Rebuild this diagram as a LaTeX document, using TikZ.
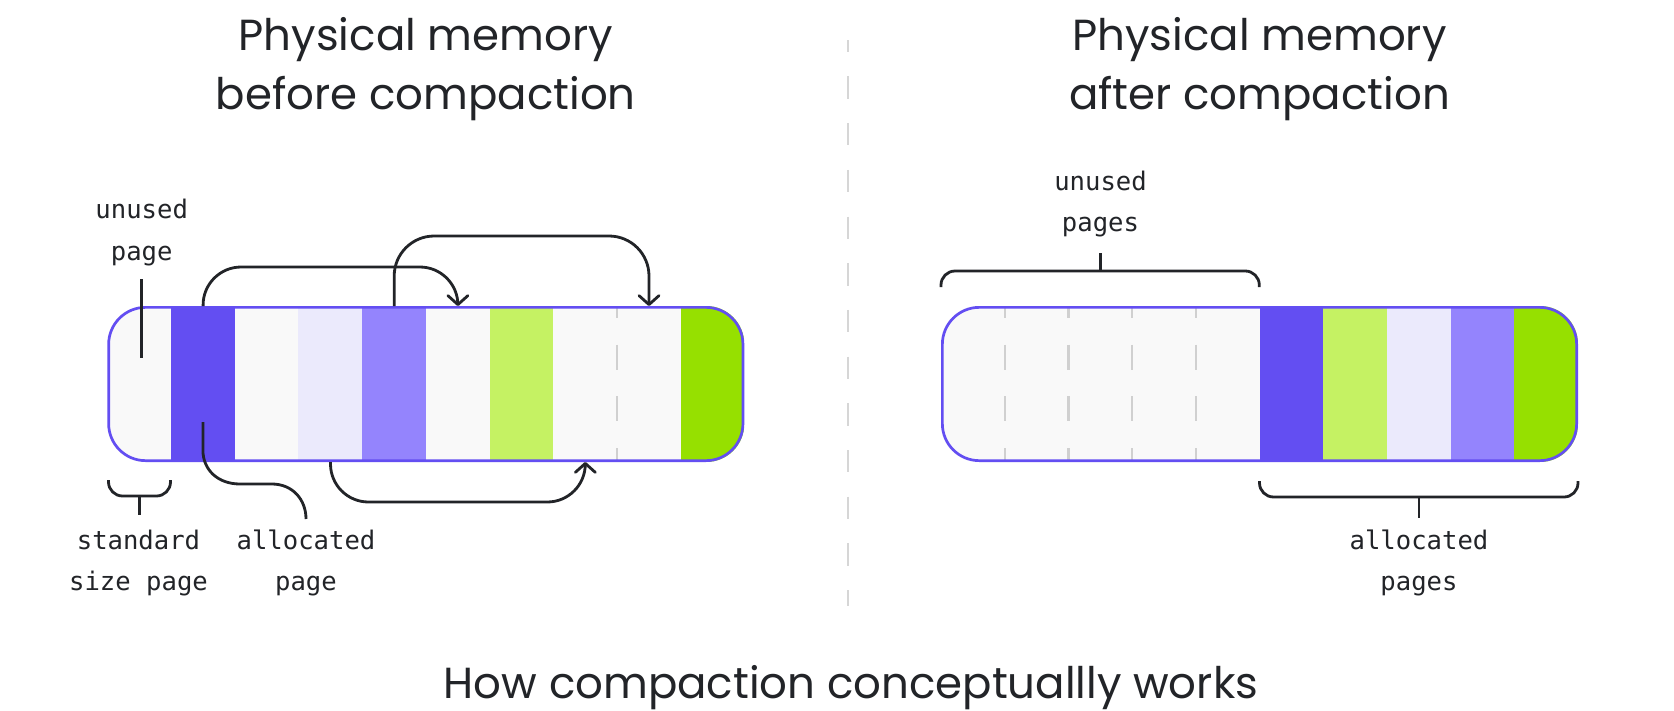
\documentclass[tikz,border=0pt]{standalone}
\usepackage{fontspec}
\newfontfamily\titlefont{Poppins}
\newfontfamily\monofont{DejaVu Sans Mono}
\usetikzlibrary{arrows.meta}
\definecolor{ink}{HTML}{222428}
\definecolor{barline}{HTML}{634EF2}
\definecolor{pdark}{HTML}{634EF2}
\definecolor{plav}{HTML}{EBEAFC}
\definecolor{pmid}{HTML}{9484FD}
\definecolor{glight}{HTML}{C5F263}
\definecolor{gbright}{HTML}{96E000}
\definecolor{unusedc}{HTML}{F9F9F9}
\definecolor{sepc}{HTML}{D6D6D6}
\definecolor{pagedash}{HTML}{D0D0D0}
\begin{document}
\begin{tikzpicture}[x=1pt,y=-1pt,
  title/.style={font=\titlefont\fontsize{43.5}{52}\selectfont, text=ink, anchor=base, inner sep=0pt},
  lbl/.style={font=\monofont\fontsize{25.6}{41.7}\selectfont, text=ink, anchor=base, inner sep=0pt},
  pagebox/.style={minimum width=64.2pt, minimum height=156pt, inner sep=0pt, outer sep=0pt, anchor=north west, draw=none},
  wire/.style={draw=ink, line width=2.8pt},
  arr/.style={wire, -{Straight Barb[length=9pt,width=20pt,round]}},
  pagesep/.style={draw=pagedash, line width=2.3pt, dash pattern=on 25pt off 26.7pt, dash phase=13pt},
  frame/.style={draw=barline, line width=2.7pt, rounded corners=37pt},
  brace/.style={wire, rounded corners=14pt}
]
\useasboundingbox (0,0) rectangle (1674,710);
\fill[white] (0,0) rectangle (1674,710);

% titles
\node[title] (t1a) at (425.8,50.5) {Physical memory};
\node[title] (t1b) at (425.8,109) {before compaction};
\node[title] (t2a) at (1259.5,50.5) {Physical memory};
\node[title] (t2b) at (1259.5,109) {after compaction};
\node[title] (cap) at (851,698) {How compaction conceptuallly works};

% separator
\draw[draw=sepc, line width=2.3pt, dash pattern=on 22.3pt off 24.4pt, dash phase=10.3pt] (848.3,40) -- (848.3,606);

% left bar
\begin{scope}
\clip[rounded corners=38pt] (107.3,306) rectangle (744.3,462);
\node[pagebox, fill=unusedc] (a0) at (107.3,306) {};
\node[pagebox, fill=pdark]   (a1) at (171.0,306) {};
\node[pagebox, fill=unusedc] (a2) at (234.7,306) {};
\node[pagebox, fill=plav]    (a3) at (298.4,306) {};
\node[pagebox, fill=pmid]    (a4) at (362.1,306) {};
\node[pagebox, fill=unusedc] (a5) at (425.8,306) {};
\node[pagebox, fill=glight]  (a6) at (489.5,306) {};
\node[pagebox, fill=unusedc] (a7) at (553.2,306) {};
\node[pagebox, fill=unusedc] (a8) at (616.9,306) {};
\node[pagebox, fill=gbright, minimum width=63.7pt] (a9) at (680.6,306) {};
\draw[pagesep] (a8.north west) -- (a8.south west);
\end{scope}
\draw[frame] (108.65,307.35) rectangle (742.95,460.65);

% right bar
\begin{scope}
\clip[rounded corners=38pt] (941,306) rectangle (1578,462);
\node[pagebox, fill=unusedc] (b0) at (941.0,306) {};
\node[pagebox, fill=unusedc] (b1) at (1004.7,306) {};
\node[pagebox, fill=unusedc] (b2) at (1068.4,306) {};
\node[pagebox, fill=unusedc] (b3) at (1132.1,306) {};
\node[pagebox, fill=unusedc] (b4) at (1195.8,306) {};
\node[pagebox, fill=pdark]   (b5) at (1259.5,306) {};
\node[pagebox, fill=glight]  (b6) at (1323.2,306) {};
\node[pagebox, fill=plav]    (b7) at (1386.9,306) {};
\node[pagebox, fill=pmid]    (b8) at (1450.6,306) {};
\node[pagebox, fill=gbright, minimum width=63.7pt] (b9) at (1514.3,306) {};
\foreach \p in {b1,b2,b3,b4}{\draw[pagesep] (\p.north west) -- (\p.south west);}
\end{scope}
\draw[frame] (942.35,307.35) rectangle (1576.65,460.65);

% labels left
\node[lbl] (u1) at (141.7,218.5) {unused};
\node[lbl] (u2) at (141.7,260.2) {page};
\node[lbl] (s1) at (138.5,549) {standard};
\node[lbl] (s2) at (138.5,590.7) {size page};
\node[lbl] (al1) at (306,549) {allocated};
\node[lbl] (al2) at (306,590.7) {page};

% labels right
\node[lbl] (r1) at (1100.5,190) {unused};
\node[lbl] (r2) at (1100.5,231.7) {pages};
\node[lbl] (q1) at (1419,549) {allocated};
\node[lbl] (q2) at (1419,590.7) {pages};

% moves
\draw[arr, rounded corners=38pt] (a1.north) -- ++(0,-39) -| (a5.north);
\draw[arr, rounded corners=40pt] (a4.north) -- ++(0,-70) -| (a8.north);
\draw[arr, rounded corners=38pt] (a3.south) -- ++(0,40) -| (a7.south);

% leaders
\coordinate (ut) at (141.7,279);
\coordinate (ub) at (141.7,358);
\draw[wire] (ut) -- (ub);
\coordinate (ls) at (202.9,422);
\coordinate (le) at (306,519);
\draw[wire] (ls) -- (202.9,450) .. controls (202.9,470) and (218,484) .. (240,484) -- (272,484) .. controls (292,484) and (306,499) .. (le);

% braces
\draw[brace] (108.5,480) -- (108.5,496) -- (170.5,496) -- (170.5,480);
\draw[wire] (139.5,496) -- (139.5,515);
\draw[brace] (941,287) -- (941,271) -- (1259.3,271) -- (1259.3,287);
\draw[wire] (1100.5,271) -- (1100.5,253);
\draw[brace] (1259.5,481) -- (1259.5,497) -- (1578,497) -- (1578,481);
\draw[wire] (1419,497) -- (1419,518);
\end{tikzpicture}
\end{document}
